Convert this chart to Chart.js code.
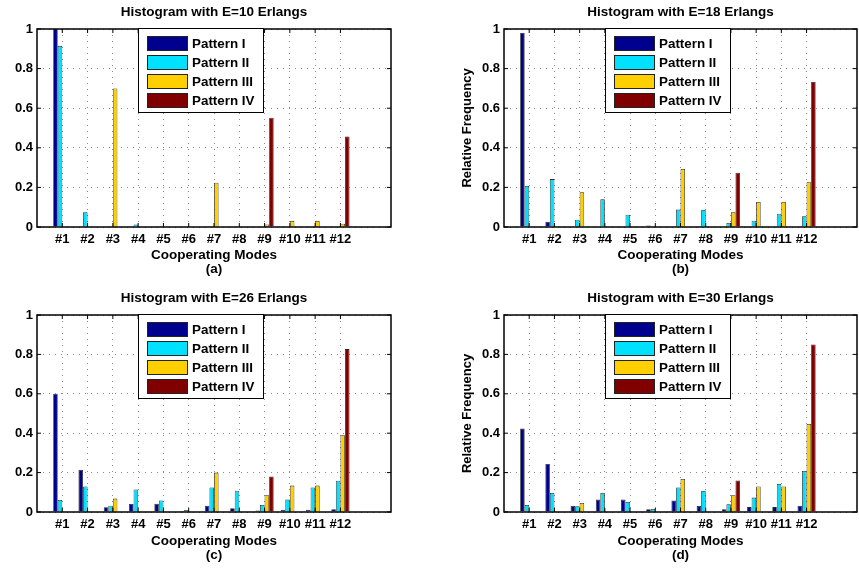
<!DOCTYPE html>
<html>
<head>
<meta charset="utf-8">
<title>Histograms of cooperating modes</title>
<script src="https://cdn.jsdelivr.net/npm/chart.js@4.4.1/dist/chart.umd.min.js"></script>
<style>
  body { margin: 0; background: #fff; }
  #figure { position: relative; width: 859px; height: 574px; }
  #figure canvas { position: absolute; }
</style>
</head>
<body>
<div id="figure">
  <canvas id="histE10" width="430" height="287" style="left:0;top:0"></canvas>
  <canvas id="histE18" width="429" height="287" style="left:430px;top:0"></canvas>
  <canvas id="histE26" width="430" height="287" style="left:0;top:287px"></canvas>
  <canvas id="histE30" width="429" height="287" style="left:430px;top:287px"></canvas>
</div>
<script>
//-----------------------------------------------------------------------------
// data
//-----------------------------------------------------------------------------
const modeLabels   = ['#1', '#2', '#3', '#4', '#5', '#6', '#7', '#8', '#9', '#10', '#11', '#12'];
const patternNames = ['Pattern I', 'Pattern II', 'Pattern III', 'Pattern IV'];
const patternColors = ['#00008f', '#00e1ff', '#ffcf00', '#800000'];

// E = 10 Erlangs
const e10PatternI   = [1.00, 0, 0, 0, 0, 0, 0, 0, 0, 0, 0, 0];
const e10PatternII  = [0.915, 0.075, 0, 0.013, 0, 0, 0, 0, 0, 0, 0, 0];
const e10PatternIII = [0, 0, 0.70, 0, 0, 0, 0.224, 0, 0.013, 0.031, 0.031, 0.017];
const e10PatternIV  = [0, 0, 0, 0, 0, 0, 0, 0, 0.552, 0, 0, 0.457];

// E = 18 Erlangs
const e18PatternI   = [0.98, 0.025, 0, 0, 0, 0.008, 0, 0, 0, 0, 0, 0];
const e18PatternII  = [0.207, 0.242, 0.037, 0.14, 0.062, 0, 0.088, 0.086, 0.02, 0.032, 0.067, 0.054];
const e18PatternIII = [0, 0, 0.175, 0, 0, 0, 0.293, 0, 0.074, 0.126, 0.126, 0.226];
const e18PatternIV  = [0, 0, 0, 0, 0, 0, 0, 0, 0.274, 0, 0, 0.732];

// E = 26 Erlangs
const e26PatternI   = [0.60, 0.215, 0.024, 0.041, 0.042, 0.005, 0.032, 0.019, 0.007, 0.012, 0.012, 0.014];
const e26PatternII  = [0.061, 0.13, 0.032, 0.114, 0.058, 0.01, 0.124, 0.108, 0.036, 0.063, 0.125, 0.159];
const e26PatternIII = [0, 0, 0.068, 0, 0, 0, 0.20, 0, 0.085, 0.134, 0.134, 0.39];
const e26PatternIV  = [0, 0, 0, 0, 0, 0, 0, 0, 0.18, 0, 0, 0.827];

// E = 30 Erlangs
const e30PatternI   = [0.424, 0.244, 0.031, 0.063, 0.063, 0.014, 0.059, 0.031, 0.014, 0.025, 0.025, 0.032];
const e30PatternII  = [0.036, 0.097, 0.029, 0.097, 0.051, 0.015, 0.124, 0.107, 0.039, 0.073, 0.142, 0.208];
const e30PatternIII = [0, 0, 0.046, 0, 0, 0, 0.168, 0, 0.085, 0.13, 0.13, 0.447];
const e30PatternIV  = [0, 0, 0, 0, 0, 0, 0, 0, 0.16, 0, 0, 0.85];

//-----------------------------------------------------------------------------
// panel layout (chart area edges in canvas pixels)
//-----------------------------------------------------------------------------
const panels = [
  { canvas: 'histE10', load: 10, tag: '(a)', yTitle: '',
    series: [e10PatternI, e10PatternII, e10PatternIII, e10PatternIV],
    left: 37, right: 391, top: 29, bottom: 227, titleY: 12.7, xTitlePad: 10.7 },
  { canvas: 'histE18', load: 18, tag: '(b)', yTitle: 'Relative Frequency',
    series: [e18PatternI, e18PatternII, e18PatternIII, e18PatternIV],
    left: 74, right: 427, top: 29, bottom: 227, titleY: 12.7, xTitlePad: 10.7 },
  { canvas: 'histE26', load: 26, tag: '(c)', yTitle: '',
    series: [e26PatternI, e26PatternII, e26PatternIII, e26PatternIV],
    left: 37, right: 391, top: 28, bottom: 225, titleY: 11, xTitlePad: 11.7 },
  { canvas: 'histE30', load: 30, tag: '(d)', yTitle: 'Relative Frequency',
    series: [e30PatternI, e30PatternII, e30PatternIII, e30PatternIV],
    left: 74, right: 427, top: 28, bottom: 225, titleY: 11, xTitlePad: 11.7 }
];

const FONT = '"Liberation Sans", Arial, Helvetica, sans-serif';
Chart.defaults.font.family = FONT;
Chart.defaults.color = '#000';

//-----------------------------------------------------------------------------
// matlab style box round the axes, with the small inward ticks
//-----------------------------------------------------------------------------
const framePlugin = {
  id: 'matlabFrame',
  afterDatasetsDraw(chart) {
    const { ctx, chartArea: a, scales } = chart;
    const line = (x1, y1, x2, y2) => {
      ctx.beginPath(); ctx.moveTo(x1, y1); ctx.lineTo(x2, y2); ctx.stroke();
    };
    ctx.save();
    ctx.strokeStyle = '#000';
    ctx.lineWidth = 1;
    scales.y.ticks.forEach(t => {
      const y = scales.y.getPixelForValue(t.value);
      line(a.left, y, a.left + 4, y);
      line(a.right, y, a.right - 4, y);
    });
    scales.x.ticks.forEach(t => {
      const x = scales.x.getPixelForValue(t.value);
      line(x, a.bottom, x, a.bottom - 4);
      line(x, a.top, x, a.top + 4);
    });
    ctx.lineWidth = 1.5;
    ctx.strokeRect(a.left, a.top, a.right - a.left, a.bottom - a.top);
    ctx.restore();
  }
};

//-----------------------------------------------------------------------------
// boxed legend in the upper middle of the axes
//-----------------------------------------------------------------------------
const boxLegendPlugin = {
  id: 'boxLegend',
  afterDraw(chart, args, opts) {
    const { ctx, chartArea: a } = chart;
    const x = a.left + opts.offsetX;
    const y = a.top + opts.offsetY;
    ctx.save();
    ctx.fillStyle = '#fff';
    ctx.fillRect(x, y, opts.width, opts.height);
    ctx.strokeStyle = '#000';
    ctx.lineWidth = 1;
    ctx.strokeRect(x + 0.5, y + 0.5, opts.width, opts.height);
    ctx.font = `bold 13.4px ${FONT}`;
    ctx.textBaseline = 'middle';
    chart.data.datasets.forEach((ds, i) => {
      const rowY = y + 8 + i * 19;
      ctx.fillStyle = ds.backgroundColor;
      ctx.fillRect(x + 9, rowY, 41, 15);
      ctx.strokeStyle = '#222';
      ctx.strokeRect(x + 9.5, rowY + 0.5, 40, 14);
      ctx.fillStyle = '#000';
      ctx.fillText(ds.label, x + 54, rowY + 8);
    });
    ctx.restore();
  }
};

//-----------------------------------------------------------------------------
// one grouped bar histogram per canvas
//-----------------------------------------------------------------------------
function drawPanel(p) {
  const ctx = document.getElementById(p.canvas).getContext('2d');
  const width = ctx.canvas.width;
  const height = ctx.canvas.height;
  const padLeft = p.yTitle ? 26.3 : 0;

  new Chart(ctx, {
    type: 'bar',
    data: {
      datasets: p.series.map((values, i) => ({
        label: patternNames[i],
        data: values.map((v, k) => ({ x: k + 1, y: v })),
        backgroundColor: patternColors[i],
        borderColor: '#2a2a2a',
        borderWidth: 0.8,
        categoryPercentage: 0.72,
        barPercentage: 1
      }))
    },
    options: {
      responsive: false,
      animation: false,
      events: [],
      layout: { padding: { left: padLeft, right: width - p.right, top: 0, bottom: 0 } },
      plugins: {
        legend: { display: false },
        tooltip: { enabled: false },
        title: {
          display: true,
          fullSize: false,
          text: `Histogram with E=${p.load} Erlangs`,
          color: '#000',
          font: { size: 13.5, weight: 'bold', lineHeight: 1.2 },
          padding: { top: p.titleY - 8.1, bottom: p.top - p.titleY - 8.1 }
        },
        boxLegend: { offsetX: 101, offsetY: -1, width: 125, height: 84 }
      },
      scales: {
        x: {
          type: 'linear',
          min: 0,
          max: 14,
          offset: false,
          afterBuildTicks: s => { s.ticks = modeLabels.map((_, i) => ({ value: i + 1 })); },
          afterFit: s => { s.height = height - p.bottom; },
          ticks: {
            autoSkip: false,
            maxRotation: 0,
            padding: 5,
            color: '#000',
            font: { size: 13, weight: 'bold' },
            callback: v => modeLabels[v - 1] ?? ''
          },
          grid: { offset: false, drawTicks: false, color: '#8a8a8a', lineWidth: 1 },
          border: { display: false, dash: [1, 5] },
          title: {
            display: true,
            text: ['Cooperating Modes', p.tag],
            color: '#000',
            font: { size: 13.5, weight: 'bold', lineHeight: '14px' },
            padding: { top: 0, bottom: p.xTitlePad }
          }
        },
        y: {
          min: 0,
          max: 1,
          afterFit: s => { s.width = p.left - padLeft; },
          ticks: {
            stepSize: 0.2,
            padding: 4,
            color: '#000',
            font: { size: 13, weight: 'bold' },
            callback: v => String(Number(v.toFixed(2)))
          },
          grid: { drawTicks: false, color: '#8a8a8a', lineWidth: 1 },
          border: { display: false, dash: [1, 5] },
          title: {
            display: !!p.yTitle,
            text: p.yTitle,
            color: '#000',
            font: { size: 13, weight: 'bold', lineHeight: 1.2 },
            padding: { top: 3.7, bottom: 0 }
          }
        }
      }
    },
    plugins: [framePlugin, boxLegendPlugin]
  });
}

panels.forEach(drawPanel);
</script>
</body>
</html>
